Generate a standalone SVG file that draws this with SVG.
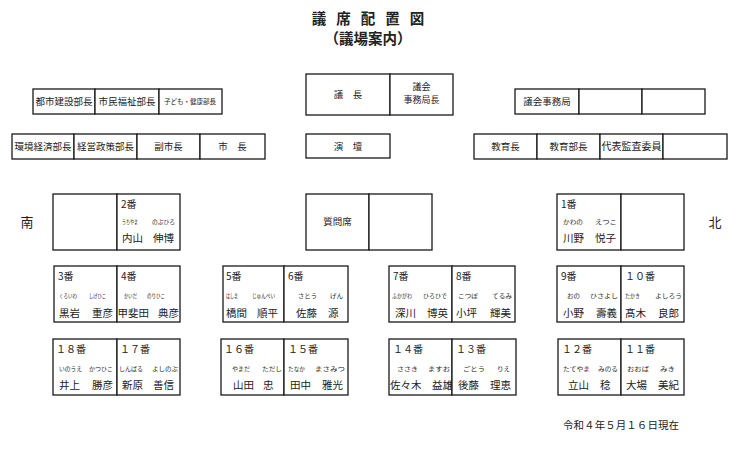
<svg xmlns="http://www.w3.org/2000/svg" width="740" height="454" viewBox="0 0 740 454">
<style>
  text { font-family: "Noto Sans CJK JP", "Noto Sans", sans-serif; fill: #222; }
  rect.b { fill: #fff; stroke: #1a1a1a; stroke-width: 1.3; }
  .lbl { font-size: 9.5px; text-anchor: middle; }
  .num { font-size: 10px; }
  .rb { font-size: 5.5px; }
  .nm { font-size: 10.5px; }
  .title { font-size: 14.5px; font-weight: bold; text-anchor: middle; }
  .dir { font-size: 13px; text-anchor: middle; }
</style>
<rect width="740" height="454" fill="#fff"/>
<g id="title">
  <text class="title" x="373" y="24" letter-spacing="10">議席配置図</text>
  <text class="title" x="368" y="44">（議場案内）</text>
</g>
<g id="connectors"></g>

<!-- top left rows -->
<g id="toshi"><rect class="b" x="33" y="89" width="62" height="25"/><text class="lbl" x="64" y="105">都市建設部長</text></g>
<g id="shimin"><rect class="b" x="95" y="89" width="64" height="25"/><text class="lbl" x="127" y="105">市民福祉部長</text></g>
<g id="kodomo"><rect class="b" x="159" y="89" width="63" height="25"/><text class="lbl" x="190" y="104" style="font-size:6.5px">子ども・健康部長</text></g>
<g id="kankyo"><rect class="b" x="12" y="134" width="62" height="25"/><text class="lbl" x="43" y="150">環境経済部長</text></g>
<g id="keiei"><rect class="b" x="74" y="134" width="63" height="25"/><text class="lbl" x="105.5" y="150">経営政策部長</text></g>
<g id="fukushicho"><rect class="b" x="137" y="134" width="63" height="25"/><text class="lbl" x="168.5" y="150">副市長</text></g>
<g id="shicho"><rect class="b" x="200" y="134" width="65" height="25"/><text class="lbl" x="232.5" y="150">市　長</text></g>

<!-- center -->
<g id="gicho"><rect class="b" x="306" y="74" width="84" height="41"/><text class="lbl" x="348" y="98">議　長</text></g>
<g id="jimukyokucho"><rect class="b" x="390" y="74" width="63" height="41"/><text class="lbl" x="421.5" y="90" style="font-size:9px">議会</text><text class="lbl" x="421.5" y="103" style="font-size:9px">事務局長</text></g>
<g id="endan"><rect class="b" x="306" y="134" width="84" height="24"/><text class="lbl" x="348" y="150">演　壇</text></g>

<!-- top right -->
<g id="jimukyoku"><rect class="b" x="515" y="89" width="64" height="25"/><text class="lbl" x="547" y="105">議会事務局</text></g>
<g id="jimukyoku2"><rect class="b" x="579" y="89" width="63" height="25"/></g>
<g id="jimukyoku3"><rect class="b" x="642" y="89" width="63" height="25"/></g>
<g id="kyoikucho"><rect class="b" x="474" y="134" width="63" height="25"/><text class="lbl" x="505.5" y="150">教育長</text></g>
<g id="kyoikubucho"><rect class="b" x="537" y="134" width="63" height="25"/><text class="lbl" x="568.5" y="150">教育部長</text></g>
<g id="kansa"><rect class="b" x="600" y="134" width="63" height="25"/><text class="lbl" x="631.5" y="150" style="font-size:10px">代表監査委員</text></g>
<g id="kansa2"><rect class="b" x="663" y="134" width="64" height="25"/></g>

<!-- directions -->
<g id="south"><text class="dir" x="27" y="227">南</text></g>
<g id="north"><text class="dir" x="715" y="227">北</text></g>

<!-- row 1 -->
<g id="seat-empty-s"><rect class="b" x="53" y="194" width="64" height="56"/></g>
<g id="seat-2"><rect class="b" x="117" y="194" width="63" height="56"/>
  <text class="num" x="121" y="208">2番</text>
  <text class="rb" x="122" y="224" textLength="16" lengthAdjust="spacingAndGlyphs">うちやま</text>
  <text class="rb" x="152" y="224" textLength="23" lengthAdjust="spacingAndGlyphs">のぶひろ</text>
  <text class="nm" x="122" y="242">内山</text><text class="nm" x="153" y="242">伸博</text></g>
<g id="shitsumon"><rect class="b" x="306" y="194" width="63" height="56"/><text class="lbl" x="337.5" y="225">質問席</text></g>
<g id="shitsumon2"><rect class="b" x="369" y="194" width="63" height="56"/></g>
<g id="seat-1"><rect class="b" x="557" y="194" width="64" height="56"/>
  <text class="num" x="561" y="208">1番</text>
  <text class="rb" x="563" y="224" textLength="20" lengthAdjust="spacingAndGlyphs">かわの</text>
  <text class="rb" x="595" y="224" textLength="22" lengthAdjust="spacingAndGlyphs">えつこ</text>
  <text class="nm" x="563" y="242">川野</text><text class="nm" x="595" y="242">悦子</text></g>
<g id="seat-empty-n"><rect class="b" x="621" y="194" width="63" height="56"/></g>

<!-- row A -->
<g id="seat-3"><rect class="b" x="54" y="266" width="63" height="56"/>
  <text class="num" x="58" y="280">3番</text>
  <text class="rb" x="59" y="298" textLength="18" lengthAdjust="spacingAndGlyphs">くろいわ</text>
  <text class="rb" x="89" y="298" textLength="17" lengthAdjust="spacingAndGlyphs">しげひこ</text>
  <text class="nm" x="59" y="317">黒岩</text><text class="nm" x="92" y="317">重彦</text></g>
<g id="seat-4"><rect class="b" x="117" y="266" width="63" height="56"/>
  <text class="num" x="121" y="280">4番</text>
  <text class="rb" x="124" y="298" textLength="13" lengthAdjust="spacingAndGlyphs">かいだ</text>
  <text class="rb" x="147" y="298" textLength="18" lengthAdjust="spacingAndGlyphs">のりひこ</text>
  <text class="nm" x="117.5" y="317">甲斐田</text><text class="nm" x="158" y="317">典彦</text></g>
<g id="seat-5"><rect class="b" x="223" y="266" width="61" height="56"/>
  <text class="num" x="226" y="280">5番</text>
  <text class="rb" x="226" y="298" textLength="12" lengthAdjust="spacingAndGlyphs">はしま</text>
  <text class="rb" x="252" y="298" textLength="23" lengthAdjust="spacingAndGlyphs">じゅんぺい</text>
  <text class="nm" x="226" y="317">橋間</text><text class="nm" x="257" y="317">順平</text></g>
<g id="seat-6"><rect class="b" x="284" y="266" width="64" height="56"/>
  <text class="num" x="288" y="280">6番</text>
  <text class="rb" x="298" y="298" textLength="19" lengthAdjust="spacingAndGlyphs">さとう</text>
  <text class="rb" x="330" y="298" textLength="13" lengthAdjust="spacingAndGlyphs">げん</text>
  <text class="nm" x="296" y="317">佐藤</text><text class="nm" x="328" y="317">源</text></g>
<g id="seat-7"><rect class="b" x="389" y="266" width="63" height="56"/>
  <text class="num" x="393" y="280">7番</text>
  <text class="rb" x="392" y="298" textLength="20" lengthAdjust="spacingAndGlyphs">ふかがわ</text>
  <text class="rb" x="423" y="298" textLength="24" lengthAdjust="spacingAndGlyphs">ひろひで</text>
  <text class="nm" x="395" y="317">深川</text><text class="nm" x="427" y="317">博英</text></g>
<g id="seat-8"><rect class="b" x="452" y="266" width="63" height="56"/>
  <text class="num" x="456" y="280">8番</text>
  <text class="rb" x="458" y="298" textLength="20" lengthAdjust="spacingAndGlyphs">こつぼ</text>
  <text class="rb" x="492" y="298" textLength="20" lengthAdjust="spacingAndGlyphs">てるみ</text>
  <text class="nm" x="456" y="317">小坪</text><text class="nm" x="490" y="317">輝美</text></g>
<g id="seat-9"><rect class="b" x="557" y="266" width="64" height="56"/>
  <text class="num" x="561" y="280">9番</text>
  <text class="rb" x="567" y="298" textLength="13" lengthAdjust="spacingAndGlyphs">おの</text>
  <text class="rb" x="590" y="298" textLength="28" lengthAdjust="spacingAndGlyphs">ひさよし</text>
  <text class="nm" x="563" y="317">小野</text><text class="nm" x="596" y="317">壽義</text></g>
<g id="seat-10"><rect class="b" x="621" y="266" width="63" height="56"/>
  <text class="num" x="625" y="280">１０番</text>
  <text class="rb" x="625" y="298" textLength="15" lengthAdjust="spacingAndGlyphs">たかき</text>
  <text class="rb" x="655" y="298" textLength="27" lengthAdjust="spacingAndGlyphs">よしろう</text>
  <text class="nm" x="625" y="317">髙木</text><text class="nm" x="658" y="317">良郎</text></g>

<!-- row B -->
<g id="seat-18"><rect class="b" x="53" y="339" width="64" height="56"/>
  <text class="num" x="56" y="353">１８番</text>
  <text class="rb" x="59" y="371" textLength="23" lengthAdjust="spacingAndGlyphs">いのうえ</text>
  <text class="rb" x="89" y="371" textLength="24" lengthAdjust="spacingAndGlyphs">かつひこ</text>
  <text class="nm" x="59" y="389">井上</text><text class="nm" x="92" y="389">勝彦</text></g>
<g id="seat-17"><rect class="b" x="117" y="339" width="63" height="56"/>
  <text class="num" x="120" y="353">１７番</text>
  <text class="rb" x="119" y="371" textLength="24" lengthAdjust="spacingAndGlyphs">しんばる</text>
  <text class="rb" x="152" y="371" textLength="26" lengthAdjust="spacingAndGlyphs">よしのぶ</text>
  <text class="nm" x="122" y="389">新原</text><text class="nm" x="153" y="389">善信</text></g>
<g id="seat-16"><rect class="b" x="221" y="339" width="63" height="56"/>
  <text class="num" x="224" y="353">１６番</text>
  <text class="rb" x="232" y="371" textLength="18" lengthAdjust="spacingAndGlyphs">やまだ</text>
  <text class="rb" x="262" y="371" textLength="20" lengthAdjust="spacingAndGlyphs">ただし</text>
  <text class="nm" x="233" y="389">山田</text><text class="nm" x="263" y="389">忠</text></g>
<g id="seat-15"><rect class="b" x="284" y="339" width="64" height="56"/>
  <text class="num" x="288" y="353">１５番</text>
  <text class="rb" x="288" y="371" textLength="17" lengthAdjust="spacingAndGlyphs">たなか</text>
  <text class="rb" x="315" y="371" textLength="30" lengthAdjust="spacingAndGlyphs">まさみつ</text>
  <text class="nm" x="290" y="389">田中</text><text class="nm" x="322" y="389">雅光</text></g>
<g id="seat-14"><rect class="b" x="389" y="339" width="63" height="56"/>
  <text class="num" x="393" y="353">１４番</text>
  <text class="rb" x="397" y="371" textLength="21" lengthAdjust="spacingAndGlyphs">ささき</text>
  <text class="rb" x="428" y="371" textLength="22" lengthAdjust="spacingAndGlyphs">ますお</text>
  <text class="nm" x="390" y="389">佐々木</text><text class="nm" x="432" y="389">益雄</text></g>
<g id="seat-13"><rect class="b" x="452" y="339" width="64" height="56"/>
  <text class="num" x="456" y="353">１３番</text>
  <text class="rb" x="463" y="371" textLength="22" lengthAdjust="spacingAndGlyphs">ごとう</text>
  <text class="rb" x="497" y="371" textLength="13" lengthAdjust="spacingAndGlyphs">りえ</text>
  <text class="nm" x="458" y="389">後藤</text><text class="nm" x="490" y="389">理恵</text></g>
<g id="seat-12"><rect class="b" x="558" y="339" width="63" height="56"/>
  <text class="num" x="562" y="353">１２番</text>
  <text class="rb" x="563" y="371" textLength="27" lengthAdjust="spacingAndGlyphs">たてやま</text>
  <text class="rb" x="598" y="371" textLength="20" lengthAdjust="spacingAndGlyphs">みのる</text>
  <text class="nm" x="568" y="389">立山</text><text class="nm" x="600" y="389">稔</text></g>
<g id="seat-11"><rect class="b" x="621" y="339" width="63" height="56"/>
  <text class="num" x="625" y="353">１１番</text>
  <text class="rb" x="627" y="371" textLength="22" lengthAdjust="spacingAndGlyphs">おおば</text>
  <text class="rb" x="660" y="371" textLength="15" lengthAdjust="spacingAndGlyphs">みき</text>
  <text class="nm" x="626" y="389">大場</text><text class="nm" x="658" y="389">美紀</text></g>

<g id="date"><text x="563" y="429" style="font-size:10.5px" textLength="116">令和４年５月１６日現在</text></g>
</svg>
